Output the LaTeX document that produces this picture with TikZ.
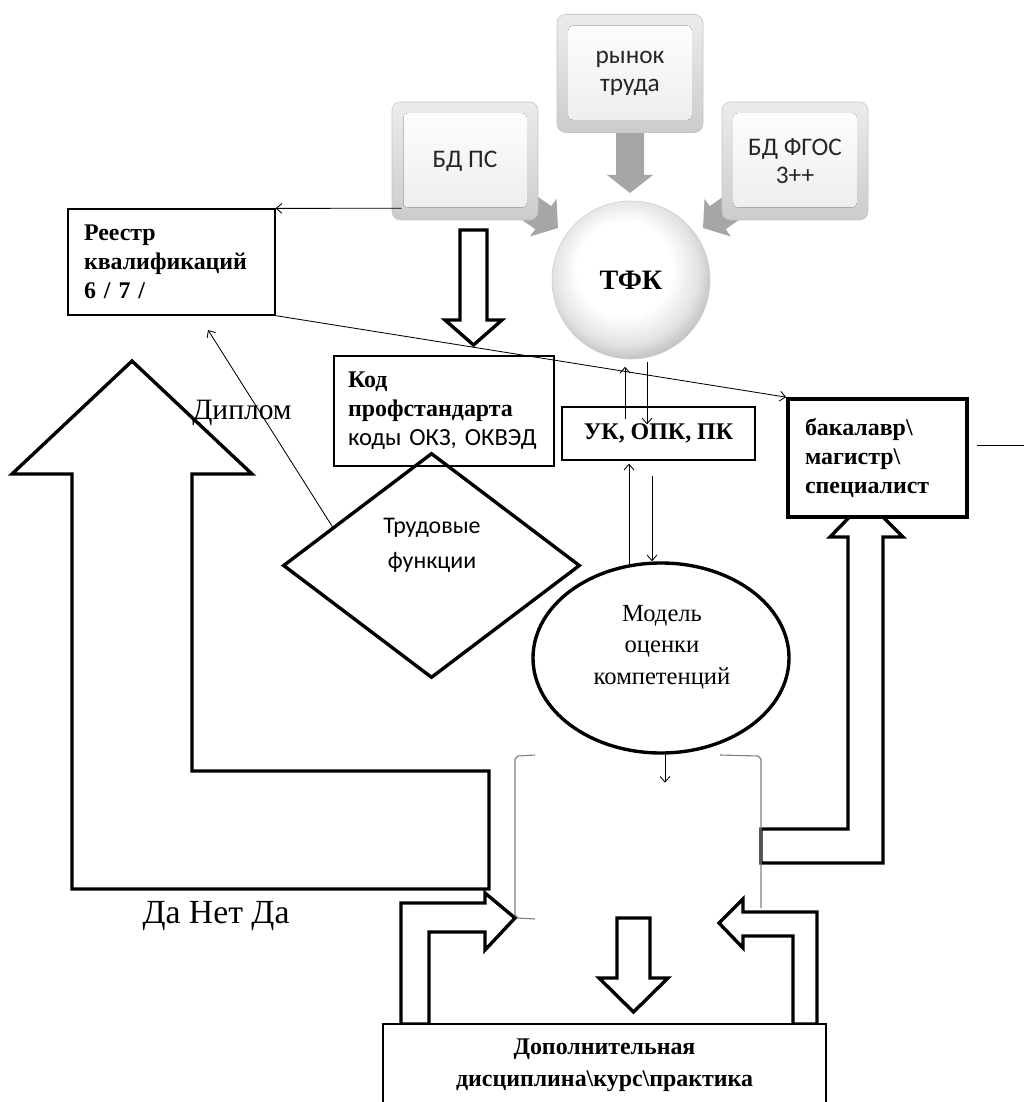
\documentclass[tikz,border=0pt]{standalone}
\usepackage{fontspec}
\setmainfont{Liberation Serif}
\newfontfamily\calibri{Carlito}
\usetikzlibrary{calc,shapes.geometric,arrows.meta}
\newcommand{\px}{0.025cm}
\newcommand{\grayarrow}[2]{%
    \fill[black!35, shift={#1}, rotate=#2] (0,0) -- (-18,-23) -- (-18,-14) -- (-61,-14) -- (-61,14) -- (-18,14) -- (-18,23) -- cycle;}
\pgfdeclareradialshading{sphere}{\pgfpoint{-3bp}{5bp}}{color(0bp)=(white); color(15bp)=(white); color(23bp)=(gray!22); color(27bp)=(gray!45); color(50bp)=(gray!45)}
\tikzset{
    block/.style = {draw, rectangle, line width=0.9pt, fill=white,
        align=left, font=\fontsize{17}{20.5}\selectfont\bfseries},
    thickblock/.style = {block, line width=2.6pt},
    source/.style = {rectangle, rounded corners=6pt, draw=gray!45, line width=0.4pt,
        top color=gray!15, bottom color=gray!40,
        minimum width=146*\px, minimum height=118*\px, align=center,
        text=black!85, font=\calibri\fontsize{18}{19.5}\selectfont,
        path picture={\fill[top color=white, bottom color=gray!15, rounded corners=3pt]
            ([shift={(8pt,9pt)}]path picture bounding box.south west) rectangle
            ([shift={(-8pt,-8pt)}]path picture bounding box.north east);}},
    hollow/.style = {draw, line width=2.4pt, fill=white},
    link/.style = {draw, line width=0.6pt, -{Straight Barb[length=4pt,width=7pt]}},
    bracket/.style = {draw=gray, line width=0.8pt}
}

\begin{document}
\begin{tikzpicture}[x=\px, y=-\px]
    \path[use as bounding box, fill=white] (0,0) rectangle (1027,1102);
    % inputs of the TFK
    \grayarrow{(630,193)}{-90}
    \grayarrow{(558,228)}{-35}
    \grayarrow{(703,228)}{-145}
    \node [source] (bdps) at (465,161) {БД ПС};
    \node [source] (rynok) at (630,73.5) {рынок\\труда};
    \node [source] (fgos) at (795,161) {БД ФГОС\\3++};
    \node [circle, minimum size=158*\px, draw=gray!40, shading=sphere,
        font=\fontsize{20}{22}\selectfont\bfseries] (tfk) at (631,280) {ТФК};
    % block arrows
    \draw [hollow] (460,230) -- (487,230) -- (487,320) -- (502,320) -- (473.5,345) -- (445,320) -- (460,320) -- cycle;
    \draw [hollow] (401,1024) -- (401,903) -- (485,903) -- (485,893) -- (515,918) -- (485,950) -- (485,932) -- (429,932) -- (429,1024) -- cycle;
    \draw [hollow] (817,1024) -- (817,912) -- (743,912) -- (743,899) -- (719,923) -- (743,948) -- (743,936) -- (793,936) -- (793,1024) -- cycle;
    \draw [hollow] (132,361) -- (252,474) -- (192,474) -- (192,771) -- (489,771) -- (489,889) -- (72,889) -- (72,474) -- (12,474) -- cycle;
    \draw [hollow] (866,500) -- (903,537) -- (883,537) -- (883,863) -- (761,863) -- (761,829) -- (848,829) -- (848,537) -- (830,537) -- cycle;
    \draw [hollow] (617,918) -- (650,918) -- (650,978) -- (668,978) -- (633.5,1012) -- (599,978) -- (617,978) -- cycle;
    \draw [bracket] (535,755) -- (518,756) -- (515,759) -- (515,915) -- (518,918) -- (535,919);
    \draw [bracket] (720,755) -- (758,756) -- (761,759) -- (761,908);
    % boxes
    \node [block, minimum width=207*\px, minimum height=106*\px, inner xsep=16*\px, text width=175*\px] (reestr) at (171.5,262) {Реестр\\квалификаций\\6 / 7 /};
    \node [block, minimum width=220*\px, minimum height=110*\px, inner xsep=14*\px, text width=192*\px] (kod) at (444,411) {Код\\профстандарта\\{\mdseries\calibri\fontsize{17.5}{19.5}\selectfont коды ОКЗ, ОКВЭД}};
    \node [block, align=center, minimum width=193*\px, minimum height=53*\px] (uk) at (658.5,433.5) {УК, ОПК, ПК};
    \node [thickblock, minimum width=179*\px, minimum height=118*\px, inner xsep=17*\px, text width=145*\px] (bak) at (877.5,458) {бакалавр\textbackslash\\магистр\textbackslash\\специалист};
    \node [block, align=center, minimum width=443*\px, minimum height=82*\px, font=\fontsize{17}{22.5}\selectfont\bfseries] (dop) at (604.5,1065) {Дополнительная\\дисциплина\textbackslash курс\textbackslash практика};
    \node [diamond, draw, line width=2.4pt, minimum width=297*\px, minimum height=225*\px, inner sep=0pt] (trud) at (431.5,565.5) {};
    \node [font=\calibri\fontsize{17}{24.5}\selectfont, align=center] (trudtxt) at (432,545.5) {Трудовые\\функции};
    \node [ellipse, draw, line width=2.4pt, minimum width=256*\px, minimum height=190*\px] (model) at (661,658) {};
    \node [font=\fontsize{17.5}{22.5}\selectfont, align=center] (modeltxt) at (662,647) {Модель\\оценки\\компетенций};
    \node [font=\fontsize{21}{24}\selectfont] (diplom) at (242,413) {Диплом};
    \node [font=\fontsize{24}{26}\selectfont] (danet) at (216,916) {Да Нет Да};
    % links
    \coordinate (diptip) at (208,330);
    \draw [link] ($(bdps.south west)+(10,-12)$) -- (reestr.north east);
    \draw [link] (reestr.south east) -- (bak.north west);
    \draw [link] ($(trud.west)!0.34!(trud.north)$) -- (diptip);
    \draw [link] ($(uk.north)+(-33.5,13)$) -- ($(tfk.south)+(-6,7.5)$);
    \draw [link] ($(tfk.south)+(16,2.5)$) -- ($(uk.north)+(-11.5,18)$);
    \draw [link] ($(model.north)+(-32,3)$) -- ($(uk.south)+(-29.5,3)$);
    \draw [link] ($(uk.south)+(-6.5,15)$) -- ($(model.north)+(-9,0)$);
    \draw [link] ($(model.south)+(4,0)$) -- ++(0,28);
    \draw [line width=0.6pt] ($(bak.east)+(8,-13)$) -- ++(47,0);
\end{tikzpicture}
\end{document}
